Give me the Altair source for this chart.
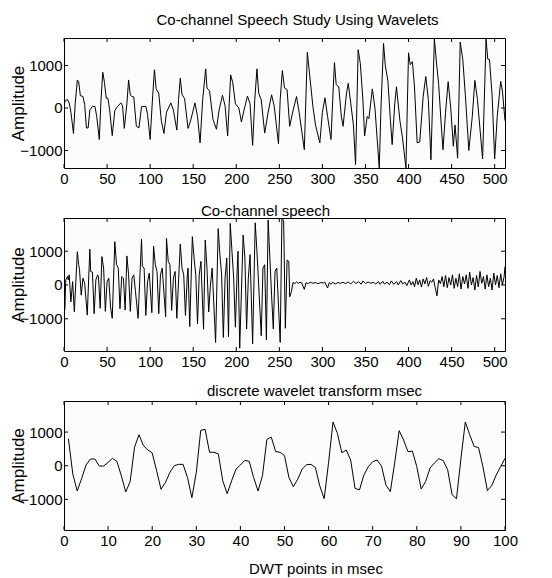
import altair as alt
import pandas as pd

# ---------------- data ----------------
# Panel 1: original speech (vertices)
p1_x = [0, 2, 4, 6, 8, 11, 13, 15.5, 17, 19, 22, 24, 26, 28, 30, 33, 36, 38, 41, 43, 45, 47, 49, 51, 53, 56, 59, 62, 66, 68,
        70, 73, 75, 77, 79, 81, 84, 87, 90, 95, 97, 100, 103, 105, 107, 110, 113, 116, 119, 124, 127, 131, 133, 135, 137, 140,
        144, 147, 150, 152, 155, 158, 161, 164.5, 166, 169, 173, 177, 180, 184, 187, 190, 193.5, 196, 199, 203, 206, 209, 213,
        216, 219, 221.5, 224, 226, 229, 233, 237, 241, 244, 249, 251, 253.5, 256, 259, 262, 266, 270, 273, 279, 282.5, 285,
        289, 292, 297, 300, 303, 306, 310, 312, 314, 316, 319, 322, 324, 328, 330, 333, 336, 338.5, 341.5, 344, 347, 349, 352,
        354, 358, 361, 366, 368, 371, 373, 376, 379, 381, 384, 386, 390, 393, 397, 400, 402, 404.5, 407, 410, 413, 417, 420,
        423, 426, 430, 432.5, 435, 438, 440, 443, 446, 449, 452, 454, 457, 460, 463, 466, 470, 474, 477, 480, 486, 490, 492,
        494, 497, 500, 503, 507, 509, 512]
p1_y = [100, 180, 200, 120, -100, -600, 100, 660, 620, 290, 270, 80, -470, -470, -50, 40, 30, -200, -740, 200, 840, 600, 230,
        230, -40, -650, -60, 30, 120, 50, -480, 100, 660, 300, 270, 260, -430, -470, 30, 40, -150, -740, 300, 900, 450, 350,
        -300, -600, -100, 120, -50, -520, 200, 700, 320, 220, -480, -300, -50, 120, -200, -820, 200, 920, 470, 400, -270,
        -500, -50, 300, 50, -660, 780, 590, 100, 0, -330, -50, 280, 100, -880, 200, 920, 350, 190, -590, -100, 310, 50, -840,
        200, 880, 470, 430, -430, -50, 270, -100, -980, 1310, 820, 30, -400, -820, -100, 240, -200, -740, 200, 1070, 550, 500,
        -200, -430, 350, 580, 100, -400, -1330, 1370, 1050, 200, -660, -200, -250, 450, 0, -1410, 0, 1520, 1000, 650, -300,
        -860, 100, 500, -300, -700, -1410, 1300, 1020, 1090, 470, -820, -800, 270, 740, 200, -1220, 1620, 1060, 550, -400,
        -980, -100, 620, 0, -900, -400, -1180, 1550, 1140, 300, -1000, -200, 650, 200, -1200, 1620, 1150, 1140, 300, -1200,
        -200, 630, 400, -300]

# Panel 2: co-channel speech
p2_x = [1, 2, 4, 5, 6, 8, 10, 12, 15.5, 17, 18, 20, 22, 24, 27, 30, 31, 33, 35, 37, 39, 40, 42, 44, 46, 48, 50, 52, 54, 56,
        59, 61, 63, 65, 67, 69, 71, 73, 75, 77, 79, 81, 83, 86, 90, 91, 93, 95, 97, 99, 102, 104, 106, 108, 110, 112, 114, 118,
        119, 121, 123, 125, 127, 129, 131, 135, 137, 139, 141, 143, 144, 146, 149, 151, 153, 155, 157, 159, 162, 164, 166, 168,
        170, 172, 176, 179, 181, 183, 185, 187, 189, 191, 193, 195, 197, 199, 201, 202, 204, 208, 210, 212, 214, 216, 219, 222,
        224, 226, 229, 231, 233, 235, 237, 239, 241, 243, 245, 247, 251, 253, 255, 257, 259, 261, 262, 264,
        266, 268, 270, 272, 274, 276, 279, 281, 283, 286, 289, 292, 295, 298, 301, 303, 306, 308, 310, 312, 315, 318, 321,
        324, 327, 330, 333, 336, 339, 342, 345, 347, 350, 353, 356, 359, 362, 365, 367, 370, 372, 375, 378, 380, 383, 386,
        388, 391, 393, 396, 398, 401, 403, 405, 407, 409, 411, 413, 415, 417, 419, 421, 423, 425, 427, 429, 431, 433, 435,
        437, 439, 441, 443, 445, 447, 449, 451, 453, 455, 457, 459, 461, 463, 465, 467, 469, 471, 473, 475, 477, 479, 481,
        483, 485, 487, 489, 491, 493, 495, 497, 499, 501, 503, 505, 507, 509, 511, 512]
p2_y = [-740, 150, 250, 150, 300, -500, 100, -790, 985, 600, 450, -300, 200, 50, -890, 1060, 400, 380, -850, 150, 300, 250,
        -690, 840, 500, -780, 100, 200, -650, -985, 1280, 600, 500, -700, 250, 200, -740, 860, 300, -780, 200, 300, -200, -985,
        1350, 550, 500, -900, 100, 350, -820, 1150, 600, 400, -850, 300, 500, -940, 1380, 700, 600, -750, 200, 400, -985, 1210,
        500, 300, -900, 200, 500, -1230, 1430, 800, 300, -1150, 300, 700, -1310, 1330, 500, -800, 0, 500, -1700, 1670, 900,
        300, -1550, 200, 800, -1530, 1820, 1000, 200, -1250, 400, 1000, -1870, 1480, 800, -1300, 200, 900, -1740, 1840, 1000,
        0, -1500, 500, 600, -1625, 1920, 800, -300, -1300, 400, 500, -1700, 1980, 1900, -1280, 740, 700, -350, -200,
        80, 40, 90, 50, 80, 60, -130, 70, 40, 80, 50, 70, 40, 70, 60, 80, -90, 70, 20, 80, 30, 70, 50, 80, 40, 90, 30, 110, 40,
        100, 20, 120, 40, 90, 50, 80, 30, 100, 20, 110, 30, 80, 10, 120, 20, 100, 0, 130, 30, 80, -20, 150, 0, 100, -50, 200,
        10, 150, -60, 180, 30, 220, -40, 130, 80, 180, -80, -320, 150, 40, 250, -50, 280, -80, 220, 0, 300, -100, 200, -50,
        330, -120, 250, 30, 300, -100, 380, 0, 220, -150, 280, -60, 400, 50, 250, -120, 300, -50, 200, -150, 350, 0, 280, -80,
        330, 0, 250, 550]

# Panel 3: discrete wavelet transform (first 100 points)
p3_x = list(range(1, 101))
p3_y = [800, -250, -750, -380, 20, 200, 200, -10, -10, 100, 220, 130, -300, -780, -470, 550, 920, 600, 470, 380,
        -150, -700, -500, -200, 0, 40, 40, -350, -950, -200, 1050, 1080, 400, 400, 350, -450, -830, -450, -100, 20,
        160, 130, -350, -750, -300, 780, 850, 420, 400, 300, -350, -620, -400, -100, 30, 40, -50, -600, -980, 100,
        1300, 960, 386, 466, 170, -673, -720, -277, -30, 120, 170, -10, -574, -770, 100, 1040, 764, 416, 436, -30,
        -690, -470, -70, 80, 210, 150, -120, -860, -980, 200, 1300, 920, 572, 540, -30, -740, -590, -277, -30, 220]

x_ticks_512 = [0, 50, 100, 150, 200, 250, 300, 350, 400, 450, 500]
x_ticks_100 = [0, 10, 20, 30, 40, 50, 60, 70, 80, 90, 100]
y_ticks = [-1000, 0, 1000]

titles = ["Co-channel Speech Study Using Wavelets", "Co-channel speech", "discrete wavelet transform msec"]
x_title = "DWT points in msec"
y_title = "Amplitude"

FONT = "Liberation Sans, Arial, sans-serif"
W = 441


def panel(xs, ys, xdom, ydom, h, xticks, title, title_dx, title_dy, xtitle=None, xtitle_dx=0):
    df = pd.DataFrame({"x": xs, "y": ys})
    xsc = alt.Scale(domain=xdom, nice=False, zero=False)
    ysc = alt.Scale(domain=ydom, nice=False, zero=False)
    xaxis_kw = dict(values=xticks, labelFont=FONT, labelFontSize=15, labelPadding=3, labelFlush=False,
                    labelOverlap=False, domain=False, ticks=False, grid=False, labelColor="black")
    if xtitle:
        xaxis_kw.update(titleFont=FONT, titleFontSize=15, titleFontWeight="normal", titleColor="black",
                        titleX=W / 2 + xtitle_dx, titleY=43, titleBaseline="alphabetic", titleAlign="center")
    xaxis = alt.Axis(**xaxis_kw)
    yaxis = alt.Axis(values=y_ticks, format="d", labelFont=FONT, labelFontSize=15, labelPadding=2,
                     labelColor="black", domain=False, ticks=False, grid=False, labelOverlap=False,
                     titleFont=FONT, titleFontSize=17, titleFontWeight="normal", titleColor="black",
                     titleAngle=270, titleX=-41, titleY=h / 2, titleBaseline="alphabetic",
                     titleAlign="center")
    xt = xtitle if xtitle else None
    line = alt.Chart(df).mark_line(color="black", strokeWidth=1, clip=True).encode(
        x=alt.X("x:Q", scale=xsc, axis=xaxis, title=xt),
        y=alt.Y("y:Q", scale=ysc, axis=yaxis, title=y_title),
    )
    tx = pd.DataFrame({"t": xticks})
    ty = pd.DataFrame({"t": y_ticks})
    top = alt.Chart(tx).mark_rule(color="black", strokeWidth=1).encode(
        x=alt.X("t:Q", scale=xsc, axis=xaxis, title=xt), y=alt.value(0), y2=alt.value(4))
    bot = alt.Chart(tx).mark_rule(color="black", strokeWidth=1).encode(
        x=alt.X("t:Q", scale=xsc, axis=xaxis, title=xt), y=alt.value(h - 4), y2=alt.value(h))
    left = alt.Chart(ty).mark_rule(color="black", strokeWidth=1).encode(
        y=alt.Y("t:Q", scale=ysc, axis=yaxis, title=y_title), x=alt.value(0), x2=alt.value(4))
    right = alt.Chart(ty).mark_rule(color="black", strokeWidth=1).encode(
        y=alt.Y("t:Q", scale=ysc, axis=yaxis, title=y_title), x=alt.value(W - 4), x2=alt.value(W))
    return alt.layer(line, top, bot, left, right).properties(
        width=W, height=h,
        title=alt.TitleParams(text=title, font=FONT, fontSize=15, fontWeight="normal", color="black",
                              anchor="middle", dx=title_dx, dy=title_dy, offset=0, baseline="alphabetic"),
    )


c1 = panel(p1_x, p1_y, [0, 512], [-1412, 1647], 130, x_ticks_512, titles[0], 13, 2)
c2 = panel(p2_x, p2_y, [0, 512], [-1953, 1982], 133, x_ticks_512, titles[1], -19, 13)
c3 = panel(p3_x, p3_y, [0, 100], [-1910, 1923], 129, x_ticks_100, titles[2], 30, 10, xtitle=x_title, xtitle_dx=31)

chart = alt.vconcat(c1, c2, c3, spacing=50, bounds="flush").configure_view(
    stroke="black", strokeWidth=1, fill="#fbfbf9"
).properties(padding={"left": 0, "top": 4, "right": 5, "bottom": 0}, background="white")

chart.save("out.html", embed_options={"renderer": "svg", "actions": False})
